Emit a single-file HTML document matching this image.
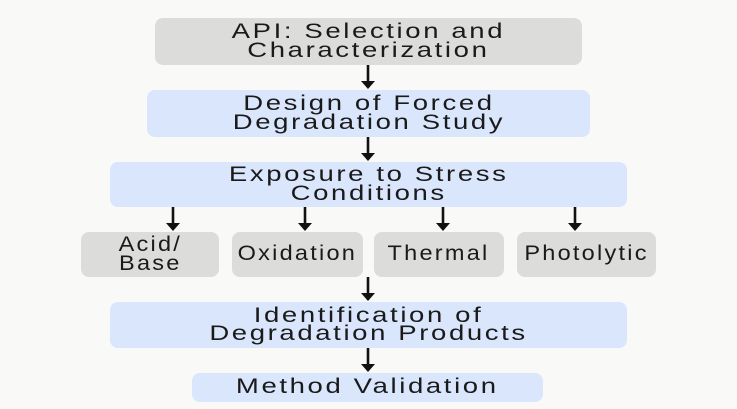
<!DOCTYPE html>
<html><head><style>
body{margin:0;width:737px;height:409px;background:#f9f9f7;position:relative;overflow:hidden;font-family:"Liberation Sans",sans-serif;color:#1a1a1a}
.b{position:absolute;display:flex;align-items:center;justify-content:center;text-align:center;border-radius:8px;font-size:21px;line-height:18.5px;letter-spacing:2px}
.b span{display:inline-block;transform:scaleX(1.31);white-space:nowrap}
.s span{transform:scaleX(1.12)}
.g{background:#dcdcdb}.u{background:#dae6fb}
svg{position:absolute;left:0;top:0}
</style></head><body>
<div class="b g" style="left:155px;top:18px;width:427px;height:47px"><span>API: Selection and<br>Characterization</span></div>
<div class="b u" style="left:147px;top:90px;width:443px;height:47px"><span>Design of Forced<br>Degradation Study</span></div>
<div class="b u" style="left:110px;top:162px;width:517px;height:45px"><span>Exposure to Stress<br>Conditions</span></div>
<div class="b g s" style="left:81px;top:232px;width:138px;height:45px"><span>Acid/<br>Base</span></div>
<div class="b g s" style="left:232px;top:232px;width:131px;height:45px"><span>Oxidation</span></div>
<div class="b g s" style="left:374px;top:232px;width:130px;height:45px"><span>Thermal</span></div>
<div class="b g s" style="left:517px;top:232px;width:139px;height:45px"><span>Photolytic</span></div>
<div class="b u" style="left:110px;top:302px;width:517px;height:46px"><span>Identification of<br>Degradation Products</span></div>
<div class="b u" style="left:192px;top:373px;width:351px;height:29px"><span>Method Validation</span></div>
<svg width="737" height="409">
<g stroke="#111" stroke-width="2.6">
<line x1="368" y1="65" x2="368" y2="82"/><path d="M361,81 L375,81 L368,89 z" fill="#111" stroke="none"/>
<line x1="368" y1="137" x2="368" y2="154"/><path d="M361,153 L375,153 L368,161 z" fill="#111" stroke="none"/>
<line x1="173" y1="207" x2="173" y2="224"/><path d="M166,223 L180,223 L173,231 z" fill="#111" stroke="none"/>
<line x1="305" y1="207" x2="305" y2="224"/><path d="M298,223 L312,223 L305,231 z" fill="#111" stroke="none"/>
<line x1="443" y1="207" x2="443" y2="224"/><path d="M436,223 L450,223 L443,231 z" fill="#111" stroke="none"/>
<line x1="575" y1="207" x2="575" y2="224"/><path d="M568,223 L582,223 L575,231 z" fill="#111" stroke="none"/>
<line x1="368" y1="277" x2="368" y2="294"/><path d="M361,293 L375,293 L368,301 z" fill="#111" stroke="none"/>
<line x1="368" y1="348" x2="368" y2="365"/><path d="M361,364 L375,364 L368,372 z" fill="#111" stroke="none"/>
</g></svg>
</body></html>
